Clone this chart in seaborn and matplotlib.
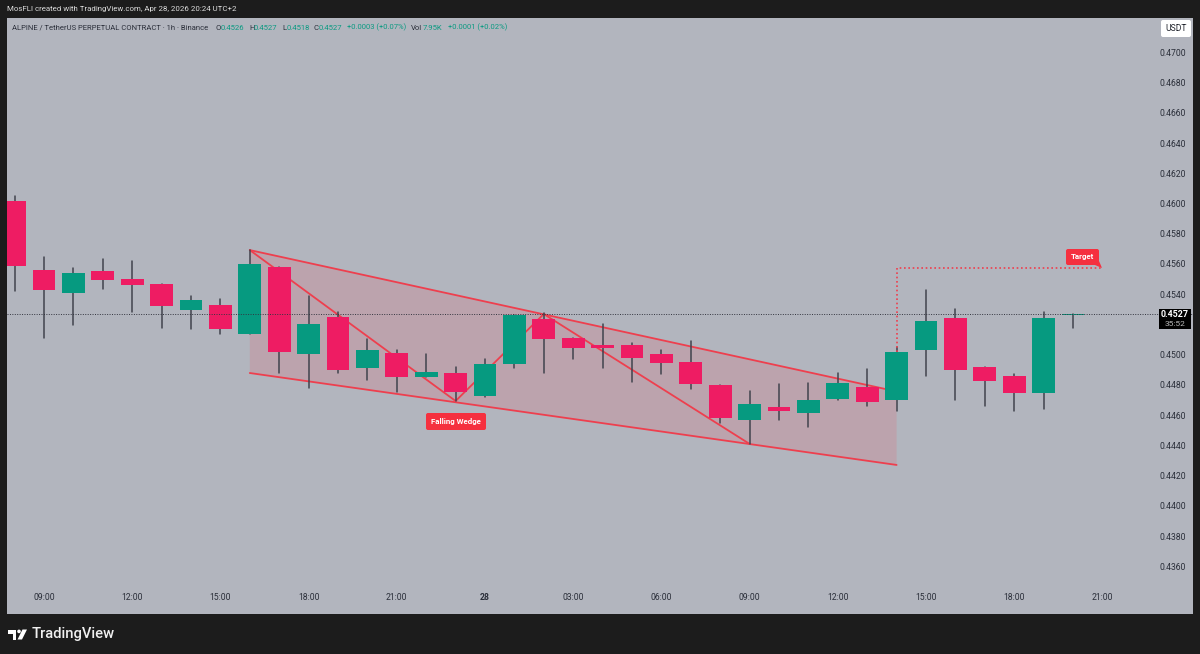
import numpy as np
import pandas as pd
import matplotlib
matplotlib.use("Agg")
import matplotlib.pyplot as plt
from matplotlib.patches import FancyBboxPatch, Polygon, Rectangle
import seaborn as sns

BG = "#b2b5be"
FRAME = "#1c1c1c"
RED = "#ee1c63"
GREEN = "#069a80"
WICK = "#41434d"
DRAW = "#ee3f4e"
LABEL = "#f5303f"
TXT = "#2a2e39"
TEAL = "#0b9a82"
FONT = "Roboto"

# hourly candles, index 0 is 08:00 on the 27th
opens = [.46019, .4556, .4541, .45552, .45501, .45468, .45298, .45331, .45137, .4558,
         .45007, .45251, .44914, .45009, .44855, .44881, .44727, .44939, .45238, .45109,
         .45062, .45062, .45003, .4495, .44802, .44566, .44652, .44617, .44707, .44789,
         .44701, .45029, .45241, .44919, .44859, .44747, .4526]
closes = [.45587, .45428, .45542, .45496, .45463, .4532, .45362, .45168, .4560, .45016,
          .45201, .44899, .45031, .44855, .44888, .44755, .44939, .45263, .45106, .45046,
          .45046, .44976, .44947, .44806, .44581, .44672, .44626, .44703, .44811, .44687,
          .45018, .45223, .44899, .44828, .44747, .45241, .4527]
highs = [.4605, .45644, .45572, .45631, .45622, .45468, .4539, .45369, .45691, .4558,
         .45388, .45281, .45102, .45031, .45003, .44921, .44972, .45263, .45274, .45109,
         .45201, .4508, .45031, .45093, .44802, .4476, .44804, .44811, .44881, .44904,
         .45049, .4543, .453, .44919, .4487, .45283, .4527]
lows = [.45423, .45113, .45195, .45433, .45285, .45179, .45172, .45135, .45137, .44881,
        .44782, .44881, .44833, .44751, .44851, .44694, .44718, .44912, .44881, .44972,
        .44912, .4482, .44872, .44771, .4455, .4441, .44568, .44522, .44701, .44661,
        .4463, .44861, .44703, .44661, .4463, .44643, .4518]

price_ticks = [.4700, .4680, .4660, .4640, .4620, .4600, .4580, .4560, .4540,
               .4500, .4480, .4460, .4440, .4420, .4400, .4380, .4360]
time_ticks = [1, 4, 7, 10, 13, 16, 19, 22, 25, 28, 31, 34, 37]
time_labels = ["09:00", "12:00", "15:00", "18:00", "21:00", "28", "03:00", "06:00",
               "09:00", "12:00", "15:00", "18:00", "21:00"]

wedge_x = [8, 30, 30, 8]
wedge_y = [.45692, .44757, .44271, .44879]
upper_x, upper_y = [8, 30], [.45692, .44757]
lower_x, lower_y = [8, 30], [.44879, .44271]
zigzag_x = [8, 15, 18, 25]
zigzag_y = [.45692, .44694, .45269, .4441]
target_x = [30, 30, 37]
target_y = [.45018, .45574, .45574]
last_price = .4527

W, H = 1200, 654
sns.set_theme(style="white")
plt.rcParams["font.family"] = [FONT, "DejaVu Sans"]
fig = plt.figure(figsize=(W / 100, H / 100), dpi=100, facecolor=FRAME)
L, R, T, B = 7, 1193, 18, 614
ax = fig.add_axes([L / W, 1 - B / H, (R - L) / W, (B - T) / H], facecolor=BG)

idx = np.arange(len(opens))
df = pd.DataFrame({"idx": idx, "open": opens, "close": closes, "high": highs, "low": lows})
df["base"] = df[["open", "close"]].min(axis=1)
df["size"] = (df["close"] - df["open"]).abs()
df["dir"] = np.where(df["close"] >= df["open"], "up", "down")

# drawings sit under the candles
ax.add_patch(Polygon(list(zip(wedge_x, wedge_y)), closed=True, fc="#bca3ad", ec="none", zorder=1))
for xs, ys in ((upper_x, upper_y), (lower_x, lower_y), (zigzag_x, zigzag_y)):
    sns.lineplot(x=xs, y=ys, ax=ax, color=DRAW, lw=1.3, sort=False, estimator=None,
                 errorbar=None, zorder=1.5)

wicks = pd.concat([df[["idx", "low"]].rename(columns={"low": "p"}),
                   df[["idx", "high"]].rename(columns={"high": "p"})])
sns.lineplot(data=wicks, x="idx", y="p", units="idx", estimator=None, ax=ax,
             color=WICK, lw=1.1, zorder=2)

# one barplot per candle direction, floated on the lower body edge
for name, col in (("up", GREEN), ("down", RED)):
    part = df[df["dir"] == name]
    sns.barplot(data=part, x="idx", y="size", bottom=part["base"].values, native_scale=True,
                color=col, width=.78, saturation=1, errorbar=None,
                ax=ax, zorder=3, linewidth=0)

sns.lineplot(x=target_x, y=target_y, ax=ax, color=DRAW, lw=1.2, ls=(0, (1, 1.6)), sort=False,
             estimator=None, errorbar=None, zorder=2.5)
ax.axhline(last_price, color="#33353f", lw=.7, ls=(0, (1, 1.5)), zorder=4)

ax.set_xlim((L - 14.6) / 29.4, (R - 14.6) / 29.4)
ax.set_ylim(.4560 - (B - 264) / 15120, .4560 + (264 - T) / 15120)
ax.set_xlabel("")
ax.set_ylabel("")
for s in ax.spines.values():
    s.set_visible(False)
ax.yaxis.tick_right()
ax.set_yticks(price_ticks, [f"{p:.4f}" for p in price_ticks])
ax.set_xticks(time_ticks, time_labels)
ax.tick_params(axis="y", length=0, pad=-24, labelsize=6.2, labelcolor=TXT)
ax.tick_params(axis="x", length=0, pad=-15, labelsize=6.2, labelcolor=TXT)
ax.get_xticklabels()[5].set_fontweight("bold")
ax.grid(False)

# overlay in pixel coordinates for the chart chrome
ov = fig.add_axes([0, 0, 1, 1], facecolor="none")
ov.set_xlim(0, W)
ov.set_ylim(H, 0)
ov.axis("off")


def box(x0, y0, x1, y1, color, r=1.5, z=6):
    ov.add_patch(FancyBboxPatch((x0 + r, y0 + r), x1 - x0 - 2 * r, y1 - y0 - 2 * r,
                                boxstyle=f"round,pad={r},rounding_size={r}",
                                fc=color, ec="none", zorder=z))


def t(x, y, s, color=TXT, size=6.2, ha="left", weight="normal"):
    ov.text(x, y, s, color=color, fontsize=size, ha=ha, va="center", fontweight=weight, zorder=7)


t(7, 9.5, "MosFLI created with TradingView.com, Apr 28, 2026 20:24 UTC+2", "#dcdcdc", 5.7)
t(11.5, 27.5, "ALPINE / TetherUS PERPETUAL CONTRACT · 1h · Binance", TXT, 5.5)
for x, s in ((215, "O"), (249, "H"), (282, "L"), (314, "C"), (411, "Vol")):
    t(x, 27.5, s, TXT, 5.5)
for x, s in ((220.5, "0.4526"), (254, "0.4527"), (286.5, "0.4518"), (319, "0.4527"),
             (347, "+0.0003 (+0.07%)"), (423, "7.95K"), (448, "+0.0001 (+0.02%)")):
    t(x, 27.5, s, TEAL, 5.5)

box(1161, 20, 1191, 37, "white", 2)
t(1176, 28.5, "USDT", "#1f222b", 6.2, "center")

ov.add_patch(Rectangle((1159, 309), 32, 20, fc="black", ec="none", zorder=6))
t(1175, 314.5, "0.4527", "white", 6.4, "center", "bold")
t(1175, 323.5, "35:52", "#b8b8b8", 6.0, "center")

box(426, 413, 486, 430, LABEL, 2)
t(456, 421.3, "Falling Wedge", "white", 5.7, "center", "bold")

box(1066, 249, 1099, 265, LABEL, 2)
ov.add_patch(Polygon([(1095, 265), (1099, 261), (1102, 268)], fc=LABEL, ec="none", zorder=6))
t(1082.5, 256.5, "Target", "white", 5.7, "center", "bold")

# TradingView logo
ov.add_patch(Polygon([(8, 629.5), (16, 629.5), (16, 639.5), (12.5, 639.5), (12.5, 633.5), (8, 633.5)],
                     fc="white", ec="none"))
ov.add_patch(plt.Circle((19, 631.4), 1.8, fc="white", ec="none"))
ov.add_patch(Polygon([(22.5, 629.5), (27, 629.5), (22, 639.5), (17.5, 639.5)], fc="white", ec="none"))
t(32, 634, "TradingView", "#f0f0f0", 10.6, weight="medium")

fig.savefig("out.png", dpi=100, facecolor=FRAME)
